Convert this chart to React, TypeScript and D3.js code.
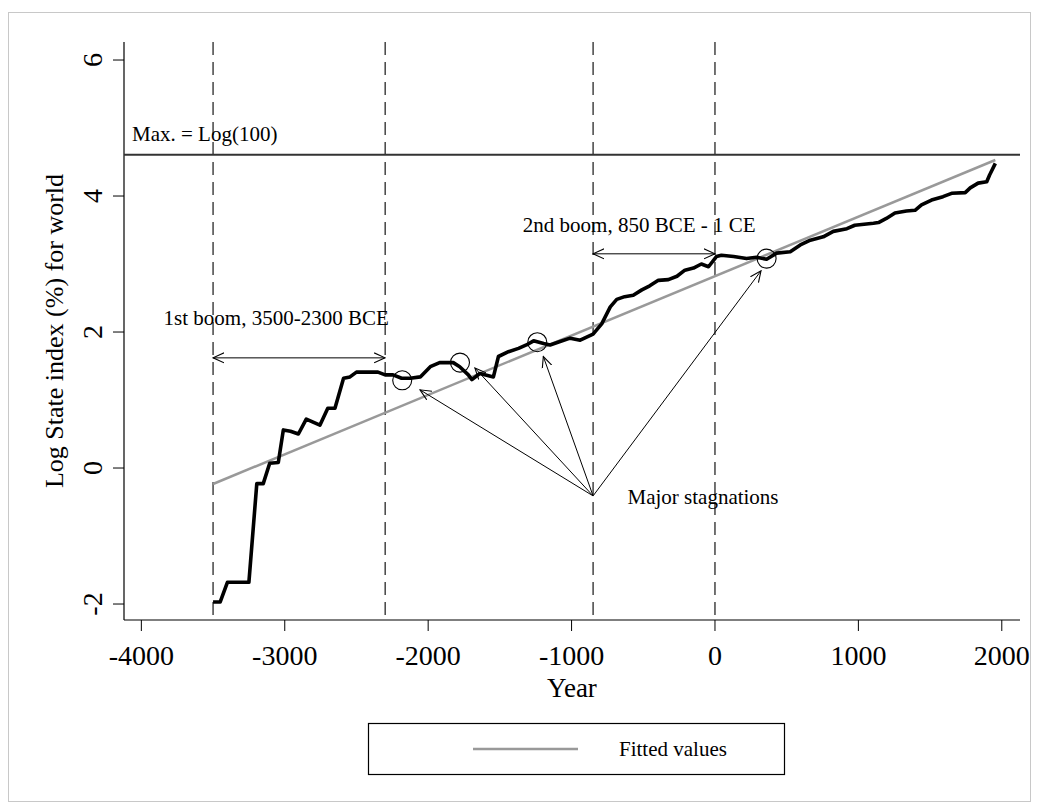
import * as d3 from "d3";

const W = 1023;
const H = 794;
const FONT = "'Liberation Serif', 'DejaVu Serif', serif";

// Log State index, world
const years = [
  -3500, -3450, -3400, -3250, -3195, -3150, -3105, -3045, -3010, -2960, -2905,
  -2850, -2755, -2700, -2650, -2590, -2545, -2500, -2350, -2300, -2245, -2185,
  -2125, -2055, -1985, -1920, -1825, -1780, -1720, -1695, -1640, -1545, -1510,
  -1440, -1370, -1315, -1265, -1195, -1150, -1080, -1010, -940, -850, -790,
  -730, -685, -630, -570, -510, -455, -395, -325, -265, -210, -150, -95, -45,
  10, 45, 130, 220, 290, 360, 430, 525, 595, 665, 755, 825, 920, 975, 1105,
  1140, 1195, 1255, 1335, 1395, 1440, 1510, 1590, 1650, 1745, 1780, 1835, 1895,
  1915, 1955,
];
const stateIndex = [
  -1.97, -1.97, -1.68, -1.68, -0.23, -0.23, 0.07, 0.08, 0.56, 0.54, 0.5, 0.72,
  0.63, 0.88, 0.88, 1.32, 1.34, 1.41, 1.41, 1.37, 1.37, 1.32, 1.32, 1.34, 1.49,
  1.55, 1.55, 1.49, 1.37, 1.3, 1.39, 1.34, 1.64, 1.71, 1.76, 1.81, 1.87, 1.83,
  1.81, 1.86, 1.91, 1.88, 1.97, 2.12, 2.37, 2.48, 2.52, 2.54, 2.62, 2.68, 2.76,
  2.77, 2.82, 2.91, 2.94, 3.0, 2.96, 3.11, 3.13, 3.11, 3.08, 3.1, 3.07, 3.16,
  3.18, 3.28, 3.35, 3.4, 3.48, 3.52, 3.57, 3.6, 3.61, 3.67, 3.75, 3.78, 3.79,
  3.87, 3.94, 3.99, 4.04, 4.05, 4.12, 4.19, 4.21, 4.31, 4.48,
];

// fitted line end points
const fitYears = [-3500, 1955];
const fitValues = [-0.235, 4.53];

const maxValue = Math.log(100);
const xTicks = [-4000, -3000, -2000, -1000, 0, 1000, 2000];
const yTicks = [-2, 0, 2, 4, 6];
const boomLines = [-3500, -2300, -850, 0];

// stagnation circles and arrow targets
const stagYears = [-2181, -1778, -1239, 360];
const stagValues = [1.29, 1.55, 1.85, 3.08];
const arrowYears = [-2057, -1674, -1197, 321];
const arrowValues = [1.15, 1.47, 1.64, 2.9];
const arrowOrigin = { year: -850, value: -0.41 };

export default function App() {
  const x = d3.scaleLinear().domain([-4121, 2127]).range([116, 1012]);
  const y = d3.scaleLinear().domain([-2.235, 6.265]).range([612, 34]);
  const [x0, x1] = x.range();
  const [yb, yt] = y.range();

  const line = d3
    .line<number>()
    .x((_, i) => x(years[i]))
    .y((d) => y(d));

  const ox = x(arrowOrigin.year);
  const oy = y(arrowOrigin.value);

  return (
    <svg width={W} height={H} style={{ display: "block" }} fontFamily={FONT}>
      <defs>
        <marker
          id="vhead"
          viewBox="0 0 12 12"
          refX={11}
          refY={6}
          markerWidth={12}
          markerHeight={12}
          markerUnits="userSpaceOnUse"
          orient="auto-start-reverse"
        >
          <path d="M0,1 L11,6 L0,11" fill="none" stroke="#000" strokeWidth={1.1} />
        </marker>
      </defs>
      <rect x={0.5} y={4.5} width={W - 1} height={H - 5} fill="#fff" stroke="#c8c8c8" />

      {/* axes */}
      <line x1={x0} x2={x0} y1={yb} y2={yt} stroke="#000" strokeWidth={1.2} />
      <line x1={x0} x2={x1} y1={yb} y2={yb} stroke="#000" strokeWidth={1.2} />
      {yTicks.map((t) => (
        <g key={`yt-${t}`}>
          <line x1={x0 - 11} x2={x0} y1={y(t)} y2={y(t)} stroke="#000" />
          <text
            transform={`translate(${x0 - 22},${y(t)}) rotate(-90)`}
            textAnchor="middle"
            fontSize={28}
          >
            {t}
          </text>
        </g>
      ))}
      {xTicks.map((t) => (
        <g key={`xt-${t}`}>
          <line x1={x(t)} x2={x(t)} y1={yb} y2={yb + 11} stroke="#000" />
          <text x={x(t)} y={yb + 45} textAnchor="middle" fontSize={28}>
            {t}
          </text>
        </g>
      ))}
      <text x={(x0 + x1) / 2} y={yb + 77} textAnchor="middle" fontSize={27}>
        Year
      </text>
      <text
        transform={`translate(55,${(yb + yt) / 2}) rotate(-90)`}
        textAnchor="middle"
        fontSize={26}
      >
        Log State index (%) for world
      </text>

      {/* boom boundaries */}
      {boomLines.map((b) => (
        <line
          key={`b-${b}`}
          x1={x(b)}
          x2={x(b)}
          y1={yt}
          y2={yb}
          stroke="#000"
          strokeWidth={1.1}
          strokeDasharray="13,7"
        />
      ))}

      {/* max line */}
      <line x1={x0} x2={x1} y1={y(maxValue)} y2={y(maxValue)} stroke="#333" strokeWidth={2} />
      <text x={x0 + 8} y={y(maxValue) - 14} fontSize={21}>
        Max. = Log(100)
      </text>

      {/* fitted values */}
      <line
        x1={x(fitYears[0])}
        y1={y(fitValues[0])}
        x2={x(fitYears[1])}
        y2={y(fitValues[1])}
        stroke="#999"
        strokeWidth={2.5}
      />

      {/* state index */}
      <path
        d={line(stateIndex) ?? ""}
        fill="none"
        stroke="#000"
        strokeWidth={3.6}
        strokeLinejoin="round"
      />

      {/* boom arrows */}
      <line
        x1={x(-3500)}
        x2={x(-2300)}
        y1={y(1.62)}
        y2={y(1.62)}
        stroke="#000"
        markerStart="url(#vhead)"
        markerEnd="url(#vhead)"
      />
      <text x={x(-3845)} y={y(2.1)} fontSize={21}>
        1st boom, 3500-2300 BCE
      </text>
      <line
        x1={x(-850)}
        x2={x(0)}
        y1={y(3.15)}
        y2={y(3.15)}
        stroke="#000"
        markerStart="url(#vhead)"
        markerEnd="url(#vhead)"
      />
      <text x={x(-1340)} y={y(3.47)} fontSize={21}>
        2nd boom, 850 BCE - 1 CE
      </text>

      {/* stagnations */}
      {stagYears.map((s, i) => (
        <circle
          key={`c-${s}`}
          cx={x(s)}
          cy={y(stagValues[i])}
          r={9.5}
          fill="none"
          stroke="#000"
          strokeWidth={1.1}
        />
      ))}
      {arrowYears.map((a, i) => (
        <line
          key={`a-${a}`}
          x1={ox}
          y1={oy}
          x2={x(a)}
          y2={y(arrowValues[i])}
          stroke="#000"
          strokeWidth={1}
          markerEnd="url(#vhead)"
        />
      ))}
      <text x={x(-610)} y={oy + 8} fontSize={21}>
        Major stagnations
      </text>

      {/* legend */}
      <rect x={360.5} y={715.5} width={416} height={51} fill="none" stroke="#000" strokeWidth={1.2} />
      <line x1={465} x2={570} y1={741} y2={741} stroke="#999" strokeWidth={2.5} />
      <text x={611} y={748} fontSize={21}>
        Fitted values
      </text>
    </svg>
  );
}
